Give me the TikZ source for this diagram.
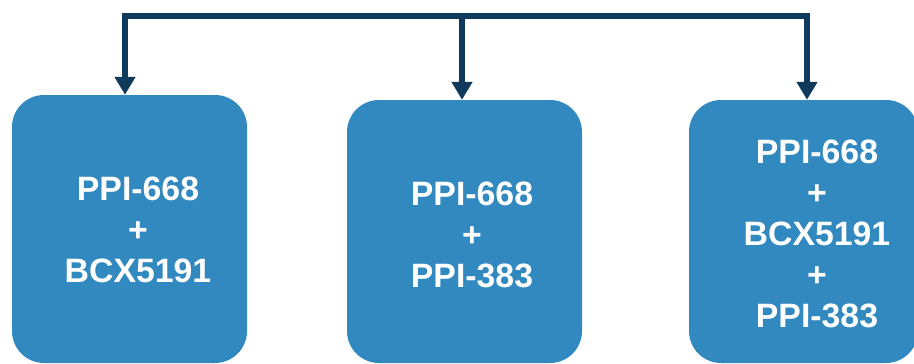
\documentclass[tikz,border=0pt]{standalone}
\usepackage{fontspec}
\setmainfont{Liberation Sans}
\usepackage{tikz}
\usetikzlibrary{arrows.meta}

\definecolor{boxblue}{RGB}{49,137,191}
\definecolor{linenavy}{RGB}{16,58,92}

\tikzset{
  combo/.style={rectangle, rounded corners=32pt, fill=boxblue, inner sep=0pt},
  combotext/.style={text=white, font=\bfseries\fontsize{33.8}{41}\selectfont, align=center},
  conn/.style={draw=linenavy, line width=6pt, line join=miter},
  tip/.style={-{Triangle[width=20pt,length=18pt]}},
  tips/.style={{Triangle[width=20pt,length=18pt]}-{Triangle[width=20pt,length=18pt]}}
}

\begin{document}
\begin{tikzpicture}[x=1pt,y=-1pt]
\useasboundingbox (0,0) rectangle (914,364);

% the three boxes
\node[combo, minimum width=235pt, minimum height=268pt] (box1) at (129.5,229) {};
\node[combo, minimum width=235pt, minimum height=263pt] (box2) at (464.5,231.5) {};
\node[combo, minimum width=229pt, minimum height=263pt] (box3) at (803.5,231.5) {};

\node[combotext] (txt1) at (138,230) {PPI-668\\+\\BCX5191};
\node[combotext] (txt2) at (472,235) {PPI-668\\+\\PPI-383};
\node[combotext] (txt3) at (817,234) {PPI-668\\+\\BCX5191\\+\\PPI-383};

% top line and arrows
\coordinate (top1) at (125,15.5);
\coordinate (top2) at (462,15.5);
\coordinate (top3) at (807,15.5);

\draw[conn,tips] (top1 |- box1.north) -- (top1) -- (top3) -- (top3 |- box3.north);
\draw[conn,tip] ([yshift=-3pt]top2) -- (top2 |- box2.north);

\end{tikzpicture}
\end{document}
